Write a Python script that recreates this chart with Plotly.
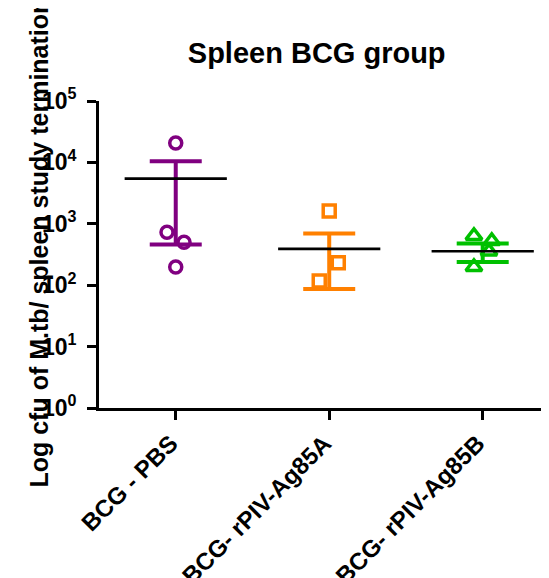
import plotly.graph_objects as go

# ---- data ----
categories = ["BCG - PBS", "BCG- rPIV-Ag85A", "BCG- rPIV-Ag85B"]

pbs_values = [20700, 727, 500, 198]
ag85a_values = [1616, 233, 117]
ag85b_values = [635, 525, 355, 198]

# horizontal scatter offsets of the individual points (category units)
pbs_jitter = [0.0, -0.057, 0.054, 0.0]
ag85a_jitter = [0.0, 0.059, -0.065]
ag85b_jitter = [-0.057, 0.059, 0.041, -0.057]

group_means = [5450, 390, 357]
group_sem = [4990, 303, 119]

y_tick_vals = [1, 10, 100, 1000, 10000, 100000]
y_tick_text = ["10<sup>0</sup>", "10<sup>1</sup>", "10<sup>2</sup>",
               "10<sup>3</sup>", "10<sup>4</sup>", "10<sup>5</sup>"]

# ---- styles ----
colors = ["#800080", "#FF8000", "#00C000"]
symbols = ["circle-open", "square-open", "triangle-up-open"]
sizes = [12, 12, 14]
FONT = "Liberation Sans, Arial, sans-serif"
MEAN_HALF = 0.333

# the page places the figure 8 px from the top-left corner
W, H = 541, 570
L, T, B = 90.5, 93, 170

values = [pbs_values, ag85a_values, ag85b_values]
jitters = [pbs_jitter, ag85a_jitter, ag85b_jitter]

fig = go.Figure()

# error bars (mean +/- SEM)
for i in range(3):
    fig.add_trace(go.Scatter(
        x=[i], y=[group_means[i]], mode="markers",
        marker=dict(size=1, opacity=0),
        error_y=dict(type="data", array=[group_sem[i]], arrayminus=[group_sem[i]],
                     color=colors[i], thickness=4, width=26),
        showlegend=False, hoverinfo="skip"))

# individual points
for i in range(3):
    fig.add_trace(go.Scatter(
        x=[i + j for j in jitters[i]], y=values[i], mode="markers",
        marker=dict(symbol=symbols[i], size=sizes[i], color=colors[i],
                    line=dict(width=3.5, color=colors[i])),
        showlegend=False))

# mean lines
for i in range(3):
    fig.add_trace(go.Scatter(
        x=[i - MEAN_HALF, i + MEAN_HALF], y=[group_means[i], group_means[i]],
        mode="lines", line=dict(color="black", width=2.7),
        showlegend=False, hoverinfo="skip"))

plot_w = W - L
plot_h = H - T - B

fig.update_layout(
    width=W, height=H,
    margin=dict(l=L, r=0, t=T, b=B, pad=0),
    paper_bgcolor="white", plot_bgcolor="white",
    font=dict(family=FONT, color="black"),
    title=dict(text="<b>Spleen BCG group</b>", font=dict(size=29, family=FONT, color="black"),
               xref="container", x=(316.7 - 8) / W, xanchor="center",
               yref="container", y=1 - 45 / H, yanchor="middle"),
    xaxis=dict(range=[-0.5, 2.432], tickmode="array", tickvals=[0, 1, 2],
               ticktext=categories, tickangle=-45, automargin=False,
               ticklabelshift=-5,
               tickfont=dict(size=24, family=FONT, weight="bold", color="black"),
               showline=True, linecolor="black", linewidth=2.7,
               ticks="outside", ticklen=9, tickwidth=2.7, tickcolor="black",
               showgrid=False, zeroline=False),
    yaxis=dict(type="log", range=[0, 5], tickmode="array", tickvals=y_tick_vals,
               ticktext=y_tick_text, automargin=False, ticklabelstandoff=6,
               tickfont=dict(size=23, family=FONT, weight="bold", color="black"),
               showline=True, linecolor="black", linewidth=2.7,
               ticks="outside", ticklen=9, tickwidth=2.7, tickcolor="black",
               showgrid=False, zeroline=False),
    annotations=[dict(text="<b>Log cfu of M.tb/ spleen study termination</b>",
                      textangle=-90, xref="paper", yref="paper",
                      x=(30 - L) / plot_w, y=(H - B - 235) / plot_h,
                      xanchor="center", yanchor="middle", showarrow=False,
                      font=dict(size=25, family=FONT, color="black"))],
)

fig.write_html("out.html")
